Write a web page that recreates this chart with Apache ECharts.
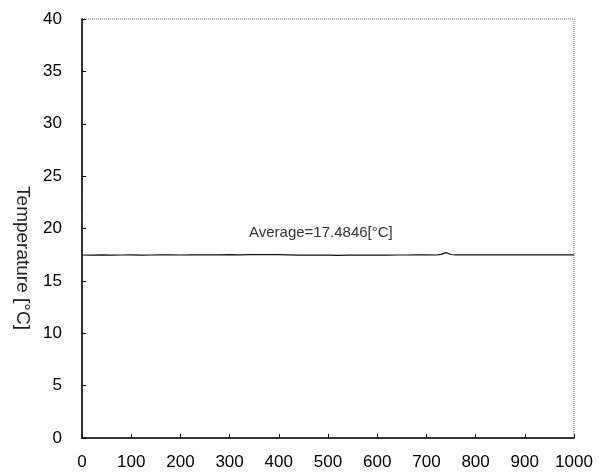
<!DOCTYPE html>
<html>
<head>
<meta charset="utf-8">
<script src="https://cdn.jsdelivr.net/npm/echarts@6/dist/echarts.min.js"></script>
<style>
  html, body { margin: 0; padding: 0; background: #fff; }
  #chart { width: 608px; height: 475px; }
</style>
</head>
<body>
<div id="chart"></div>
<script>
// time steps and measured temperature
const xValues = [0, 20, 40, 60, 80, 100, 120, 140, 160, 180, 200, 220, 240, 260, 280, 300,
  320, 340, 360, 380, 400, 420, 440, 460, 480, 500, 520, 540, 560, 580, 600, 620, 640, 660,
  680, 700, 720, 730, 740, 750, 760, 780, 800, 820, 840, 860, 880, 900, 920, 940, 960, 980, 1000];
const temps = [17.47, 17.46, 17.48, 17.45, 17.47, 17.48, 17.46, 17.47, 17.49, 17.48, 17.47,
  17.48, 17.49, 17.49, 17.49, 17.50, 17.49, 17.50, 17.50, 17.50, 17.50, 17.49, 17.46, 17.47,
  17.45, 17.46, 17.44, 17.45, 17.46, 17.45, 17.46, 17.46, 17.47, 17.47, 17.48, 17.48, 17.47,
  17.53, 17.70, 17.52, 17.49, 17.48, 17.49, 17.48, 17.49, 17.48, 17.49, 17.48, 17.49, 17.48,
  17.49, 17.48, 17.49];
const averageLabel = 'Average=17.4846[\u00B0C]';
const yTitle = 'Temperature [\u00B0C]';

const chart = echarts.init(document.getElementById('chart'));
const font = 'Liberation Sans, Arial, sans-serif';

chart.setOption({
  animation: false,
  grid: {
    left: 82,
    right: 34,
    top: 19,
    bottom: 37,
    show: true,
    borderColor: '#777',
    borderWidth: 1,
    borderType: 'dotted'
  },
  xAxis: {
    type: 'value',
    min: 0,
    max: 1000,
    interval: 100,
    axisLine: { show: true, onZero: false, lineStyle: { color: '#000', width: 1.5 } },
    axisTick: { show: true, inside: true, length: 4, lineStyle: { color: '#000' } },
    axisLabel: { color: '#000', fontSize: 17, fontFamily: font, margin: 16, formatter: v => String(v) },
    splitLine: { show: false }
  },
  yAxis: {
    type: 'value',
    min: 0,
    max: 40,
    interval: 5,
    axisLine: { show: true, onZero: false, lineStyle: { color: '#000', width: 1.5 } },
    axisTick: { show: true, inside: true, length: 4, lineStyle: { color: '#000' } },
    axisLabel: { color: '#000', fontSize: 17, fontFamily: font, margin: 20 },
    splitLine: { show: false }
  },
  series: [{
    type: 'line',
    showSymbol: false,
    lineStyle: { color: '#111', width: 1.2 },
    data: xValues.map((x, i) => [x, temps[i]])
  }],
  graphic: [{
    type: 'text',
    left: 249,
    top: 225,
    style: { text: averageLabel, fill: '#333', font: '15px ' + font }
  }, {
    type: 'text',
    x: 22,
    y: 258,
    rotation: -Math.PI / 2,
    style: {
      text: yTitle,
      fill: '#222',
      font: '19px ' + font,
      align: 'center',
      verticalAlign: 'middle'
    }
  }]
});
</script>
</body>
</html>
